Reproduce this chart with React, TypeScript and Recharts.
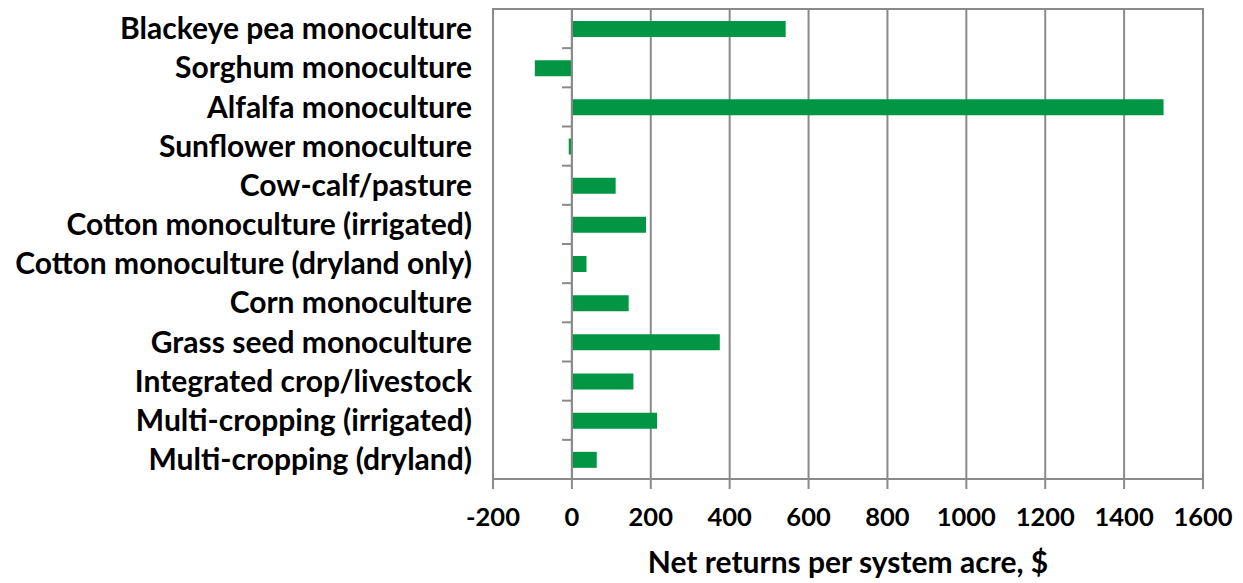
import React from 'react';
import {
  BarChart, Bar, XAxis, YAxis, CartesianGrid, ReferenceLine, ReferenceArea
} from 'recharts';

const categories = [
  'Blackeye pea monoculture',
  'Sorghum monoculture',
  'Alfalfa monoculture',
  'Sunflower monoculture',
  'Cow-calf/pasture',
  'Cotton monoculture (irrigated)',
  'Cotton monoculture (dryland only)',
  'Corn monoculture',
  'Grass seed monoculture',
  'Integrated crop/livestock',
  'Multi-cropping (irrigated)',
  'Multi-cropping (dryland)',
];

const netReturns = [542, -94, 1500, -8, 111, 188, 37, 144, 375, 156, 216, 63];

const xTicks = [-200, 0, 200, 400, 600, 800, 1000, 1200, 1400, 1600];

const GRID = '#8a8a8a';
const GREEN = '#029644';
const FONT = 'Lato, sans-serif';

const data = categories.map((name, idx) => ({ idx, name, value: netReturns[idx] }));
// category boundaries where the tick marks of the vertical axis sit
const boundaries = categories.map((_, i) => i - 0.5).concat(categories.length - 0.5);

export default function App() {
  return (
    <div style={{ width: 1235, height: 575, fontFamily: FONT }}>
      <BarChart
        width={1235}
        height={575}
        data={data}
        layout="vertical"
        margin={{ top: 1, right: 40, bottom: 0, left: 0 }}
      >
        <CartesianGrid horizontal={false} stroke={GRID} strokeWidth={2} />
        <XAxis
          type="number"
          dataKey="value"
          domain={[-200, 1600]}
          ticks={xTicks}
          interval={0}
          height={104}
          stroke={GRID}
          strokeWidth={2}
          tickSize={10}
          tickMargin={19}
          tick={{ fill: '#000', fontSize: 25.5, fontWeight: 700, fontFamily: FONT }}
          label={{
            value: 'Net returns per system acre, $',
            position: 'insideBottom',
            offset: 10,
            fill: '#000',
            fontSize: 30,
            fontWeight: 700,
            fontFamily: FONT,
          }}
        />
        <YAxis
          type="number"
          dataKey="idx"
          domain={[-0.5, categories.length - 0.5]}
          ticks={data.map(d => d.idx)}
          interval={0}
          width={485}
          axisLine={false}
          tickLine={false}
          tickSize={0}
          tickMargin={21}
          tickFormatter={(i: number) => categories[i]}
          tick={{ fill: '#000', fontSize: 30, fontWeight: 700, fontFamily: FONT }}
        />
        <ReferenceArea
          x1={-200}
          x2={1600}
          y1={-0.5}
          y2={categories.length - 0.5}
          fill="none"
          stroke={GRID}
          strokeWidth={2}
        />
        <Bar dataKey="value" fill={GREEN} barSize={16} isAnimationActive={false} />
        <ReferenceLine x={0} stroke={GRID} strokeWidth={2} />
        {boundaries.map(b => (
          <ReferenceLine
            key={b}
            segment={[{ x: -25, y: b }, { x: 0, y: b }]}
            stroke={GRID}
            strokeWidth={2}
          />
        ))}
      </BarChart>
    </div>
  );
}
